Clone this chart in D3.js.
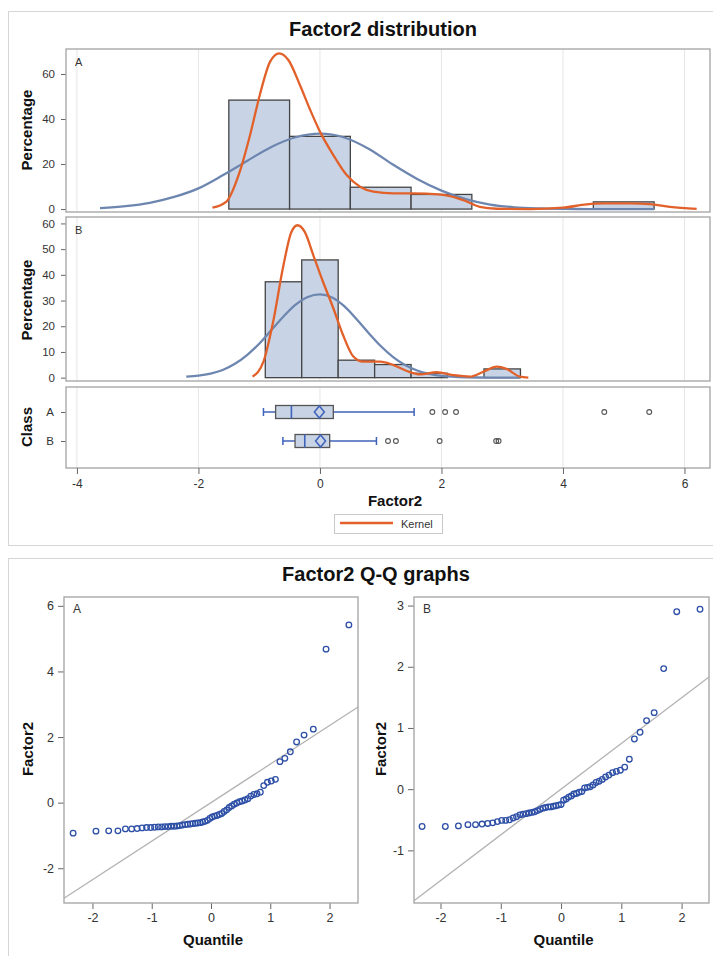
<!DOCTYPE html>
<html>
<head>
<meta charset="utf-8">
<title>Factor2 distribution</title>
<script src="https://cdn.jsdelivr.net/npm/d3@7"></script>
<style>
  body { margin: 0; background: #fff; }
  svg { display: block; font-family: "Liberation Sans", Arial, sans-serif; }
</style>
</head>
<body>
<svg id="chart" width="713" height="956"></svg>
<script>
const classes = ["A", "B"];
const xTicks = [-4, -2, 0, 2, 4, 6];
const yTicksA = [0, 20, 40, 60];
const yTicksB = [0, 10, 20, 30, 40, 50, 60];

// histogram bins (percent)
const edgesA = [-1.5, -0.5, 0.5, 1.5, 2.5, 3.5, 4.5, 5.5];
const pctA = [48.4, 32.3, 9.7, 6.5, 0, 0, 3.2];
const edgesB = [-0.9, -0.3, 0.3, 0.9, 1.5, 2.1, 2.7, 3.3];
const pctB = [37.3, 45.8, 6.8, 5.1, 1.7, 0, 3.4];

// fitted normal curves
const normalXA = [-3.62, -3.2, -2.8, -2.4, -2.0, -1.6, -1.2, -0.8, -0.4, 0, 0.4, 0.8, 1.2, 1.6, 2.0, 2.4, 2.8, 3.2, 3.6, 4.0, 4.5, 5.5];
const normalYA = [0.4, 1.3, 2.8, 5.4, 9.2, 15.0, 21.4, 27.6, 31.9, 33.5, 31.8, 26.8, 19.8, 13.4, 8.2, 4.4, 2.0, 0.8, 0.3, 0.1, 0, 0];
const normalXB = [-2.2, -2.0, -1.8, -1.6, -1.4, -1.2, -1.0, -0.8, -0.6, -0.4, -0.2, 0, 0.2, 0.4, 0.6, 0.8, 1.0, 1.2, 1.4, 1.6, 1.8, 2.0, 2.4, 2.8, 3.3];
const normalYB = [0.4, 0.8, 1.6, 3.0, 5.4, 8.8, 13.2, 18.5, 23.8, 28.4, 31.4, 32.4, 31.2, 27.8, 22.8, 17.4, 12.3, 8.1, 4.9, 2.8, 1.5, 0.7, 0.15, 0.02, 0];

// kernel density curves
const kernelXA = [-1.77, -1.54, -1.32, -1.15, -0.99, -0.82, -0.67, -0.52, -0.33, -0.16, 0, 0.22, 0.44, 0.66, 0.88, 1.21, 1.54, 1.95, 2.14, 2.36, 2.63, 2.91, 3.46, 4.0, 4.39, 4.66, 5.1, 5.43, 5.76, 6.2];
const kernelYA = [0.6, 3.3, 16.6, 32.9, 50.7, 65.5, 69.2, 66.2, 55.1, 44, 34.4, 24, 15.1, 9.9, 7.7, 7, 7, 6.5, 5.8, 4, 1.0, 0.15, 0, 0.6, 2.1, 2.5, 2.5, 2.2, 1.0, 0.1];
const kernelXB = [-1.11, -0.93, -0.77, -0.60, -0.47, -0.37, -0.25, -0.11, 0.05, 0.22, 0.38, 0.55, 0.71, 0.99, 1.21, 1.43, 1.65, 1.92, 2.19, 2.47, 2.69, 2.91, 3.07, 3.29, 3.43];
const kernelYB = [0.4, 6.2, 21.8, 43.8, 56.7, 59.3, 56.7, 47.7, 37.3, 27, 16.6, 8.2, 6.2, 6.2, 4.9, 2.6, 1.3, 2.1, 1.0, 0.4, 2.3, 4.3, 3.4, 0.4, 0];

// box plot statistics per class
const boxLow = [-0.93, -0.61];
const boxQ1 = [-0.73, -0.41];
const boxMedian = [-0.47, -0.25];
const boxMean = [-0.01, 0.01];
const boxQ3 = [0.22, 0.16];
const boxHigh = [1.55, 0.93];

// Q-Q plots: normal quantiles and sorted Factor2 values
const quantA = [-2.326, -1.941, -1.726, -1.570, -1.444, -1.338, -1.246, -1.163, -1.087, -1.017, -0.952, -0.890, -0.832, -0.776, -0.723, -0.671, -0.622, -0.573, -0.526, -0.481, -0.436, -0.392, -0.349, -0.307, -0.265, -0.223, -0.182, -0.141, -0.101, -0.060, -0.020, 0.020, 0.060, 0.101, 0.141, 0.182, 0.223, 0.265, 0.307, 0.349, 0.392, 0.436, 0.481, 0.526, 0.573, 0.622, 0.671, 0.723, 0.776, 0.832, 0.890, 0.952, 1.017, 1.087, 1.163, 1.246, 1.338, 1.444, 1.570, 1.726, 1.941, 2.326];
const factorA = [-0.93, -0.87, -0.86, -0.86, -0.80, -0.80, -0.79, -0.77, -0.76, -0.76, -0.75, -0.74, -0.74, -0.73, -0.73, -0.72, -0.72, -0.71, -0.70, -0.68, -0.67, -0.66, -0.65, -0.64, -0.63, -0.62, -0.61, -0.59, -0.57, -0.54, -0.48, -0.44, -0.41, -0.39, -0.36, -0.33, -0.27, -0.22, -0.15, -0.10, -0.05, -0.01, 0.03, 0.05, 0.08, 0.12, 0.20, 0.25, 0.27, 0.32, 0.52, 0.62, 0.66, 0.71, 1.25, 1.35, 1.55, 1.85, 2.06, 2.24, 4.68, 5.42];
const quantB = [-2.306, -1.920, -1.703, -1.545, -1.419, -1.311, -1.217, -1.133, -1.056, -0.984, -0.918, -0.855, -0.795, -0.739, -0.684, -0.632, -0.581, -0.532, -0.484, -0.437, -0.391, -0.345, -0.300, -0.256, -0.213, -0.170, -0.127, -0.085, -0.042, 0, 0.042, 0.085, 0.127, 0.170, 0.213, 0.256, 0.300, 0.345, 0.391, 0.437, 0.484, 0.532, 0.581, 0.632, 0.684, 0.739, 0.795, 0.855, 0.918, 0.984, 1.056, 1.133, 1.217, 1.311, 1.419, 1.545, 1.703, 1.920, 2.306];
const factorB = [-0.61, -0.61, -0.60, -0.58, -0.58, -0.57, -0.56, -0.55, -0.53, -0.51, -0.51, -0.50, -0.47, -0.45, -0.42, -0.41, -0.40, -0.39, -0.38, -0.37, -0.35, -0.33, -0.31, -0.30, -0.29, -0.29, -0.28, -0.27, -0.26, -0.25, -0.18, -0.16, -0.13, -0.11, -0.08, -0.07, -0.05, -0.04, 0.02, 0.03, 0.04, 0.07, 0.11, 0.13, 0.16, 0.20, 0.23, 0.27, 0.29, 0.31, 0.36, 0.49, 0.82, 0.93, 1.12, 1.25, 1.97, 2.90, 2.94];
const qqMean = [0.0, 0.0];
const qqSd = [1.175, 0.747];
const qqTicksX = [-2, -1, 0, 1, 2];
const qqTicksYA = [-2, 0, 2, 4, 6];
const qqTicksYB = [-1, 0, 1, 2, 3];

const fillColor = "#c8d4e5";
const normalColor = "#6d86b0";
const kernelColor = "#e2612a";
const boxBlue = "#3f62ba";
const markerBlue = "#2d4fa6";
const frameGray = "#a9a9a9";

// plain hyphen for negative tick labels, like the original
const plain = d => String(d);

const svg = d3.select("#chart");

// outer frames of the two graphs
svg.append("rect").attr("x", 8.5).attr("y", 11.5).attr("width", 760).attr("height", 534)
    .attr("fill", "none").attr("stroke", "#d6d6d6");
svg.append("rect").attr("x", 8.5).attr("y", 558.5).attr("width", 760).attr("height", 500)
    .attr("fill", "none").attr("stroke", "#d6d6d6");

function styleAxis(g, size) {
    g.select(".domain").remove();
    g.selectAll(".tick line").attr("stroke", "#666");
    g.selectAll(".tick text").attr("fill", "#333").attr("font-size", size)
        .attr("font-family", "'Liberation Sans', Arial, sans-serif");
}

function frame(x0, y0, x1, y1) {
    svg.append("rect").attr("x", x0).attr("y", y0).attr("width", x1 - x0).attr("height", y1 - y0)
        .attr("fill", "none").attr("stroke", frameGray).attr("stroke-width", 1.4);
}

function yLabel(text, x, y) {
    svg.append("text").attr("transform", `translate(${x},${y}) rotate(-90)`)
        .attr("text-anchor", "middle").attr("font-size", 15).attr("font-weight", "bold")
        .attr("fill", "#111").text(text);
}

// ---------- Factor2 distribution ----------
svg.append("text").attr("x", 383).attr("y", 36).attr("text-anchor", "middle")
    .attr("font-size", 20).attr("font-weight", "bold").attr("fill", "#111")
    .text("Factor2 distribution");

const x = d3.scaleLinear().domain([-4.18, 6.42]).range([66, 710]);
const yA = d3.scaleLinear().domain([-1.3, 71.1]).range([212, 49]);
const yB = d3.scaleLinear().domain([-1.3, 62.5]).range([381, 217]);
const yClass = d3.scalePoint().domain(classes).range([412, 441]);

function grid(y0, y1) {
    svg.append("g").selectAll("line").data(xTicks).join("line")
        .attr("x1", d => x(d)).attr("x2", d => x(d))
        .attr("y1", y0).attr("y2", y1)
        .attr("stroke", "#e6e6e6");
}

function histPanel(yScale, edges, pct, normX, normY, kernX, kernY, letter, ticks) {
    const [bottom, top] = yScale.range();
    grid(top, bottom);
    const g = svg.append("g");
    const bins = pct.map((p, i) => ({ x0: edges[i], x1: edges[i + 1], p })).filter(d => d.p > 0);
    g.selectAll("rect").data(bins).join("rect")
        .attr("x", d => x(d.x0))
        .attr("width", d => x(d.x1) - x(d.x0))
        .attr("y", d => yScale(d.p))
        .attr("height", d => yScale(0) - yScale(d.p))
        .attr("fill", fillColor).attr("stroke", "#444").attr("stroke-width", 1.3);

    const line = d3.line().x(d => x(d[0])).y(d => yScale(d[1])).curve(d3.curveMonotoneX);
    g.append("path").datum(d3.zip(normX, normY)).attr("d", line)
        .attr("fill", "none").attr("stroke", normalColor).attr("stroke-width", 2.3);
    g.append("path").datum(d3.zip(kernX, kernY)).attr("d", line)
        .attr("fill", "none").attr("stroke", kernelColor).attr("stroke-width", 2.3);

    svg.append("g").attr("transform", "translate(66,0)")
        .call(d3.axisLeft(yScale).tickValues(ticks).tickSize(5).tickPadding(6).tickFormat(plain))
        .call(g => styleAxis(g, 11.5));

    svg.append("text").attr("x", 75).attr("y", top + 17).attr("font-size", 11)
        .attr("fill", "#333").text(letter);
    frame(66, top, 710, bottom);
}

histPanel(yA, edgesA, pctA, normalXA, normalYA, kernelXA, kernelYA, "A", yTicksA);
histPanel(yB, edgesB, pctB, normalXB, normalYB, kernelXB, kernelYB, "B", yTicksB);
yLabel("Percentage", 32, 130);
yLabel("Percentage", 32, 300);

// box plots
grid(387, 468);
const factors = [factorA, factorB];
const boxG = svg.append("g");
classes.forEach((c, i) => {
    const cy = yClass(c);
    const h = 6.5;
    const cap = 4;
    boxG.append("line").attr("x1", x(boxLow[i])).attr("x2", x(boxQ1[i])).attr("y1", cy).attr("y2", cy)
        .attr("stroke", boxBlue).attr("stroke-width", 1.5);
    boxG.append("line").attr("x1", x(boxQ3[i])).attr("x2", x(boxHigh[i])).attr("y1", cy).attr("y2", cy)
        .attr("stroke", boxBlue).attr("stroke-width", 1.5);
    [boxLow[i], boxHigh[i]].forEach(v => {
        boxG.append("line").attr("x1", x(v)).attr("x2", x(v)).attr("y1", cy - cap).attr("y2", cy + cap)
            .attr("stroke", boxBlue).attr("stroke-width", 1.5);
    });
    boxG.append("rect").attr("x", x(boxQ1[i])).attr("width", x(boxQ3[i]) - x(boxQ1[i]))
        .attr("y", cy - h).attr("height", 2 * h)
        .attr("fill", fillColor).attr("stroke", "#555").attr("stroke-width", 1.3);
    boxG.append("line").attr("x1", x(boxMedian[i])).attr("x2", x(boxMedian[i]))
        .attr("y1", cy - h).attr("y2", cy + h).attr("stroke", boxBlue).attr("stroke-width", 1.6);
    const mx = x(boxMean[i]);
    boxG.append("path").attr("d", `M${mx - 5},${cy}L${mx},${cy - 6}L${mx + 5},${cy}L${mx},${cy + 6}Z`)
        .attr("fill", "none").attr("stroke", boxBlue).attr("stroke-width", 1.5);
    const outliers = factors[i].filter(v => v > boxHigh[i] || v < boxLow[i]);
    boxG.selectAll(null).data(outliers).join("circle")
        .attr("cx", d => x(d)).attr("cy", cy).attr("r", 2.4)
        .attr("fill", "none").attr("stroke", "#555").attr("stroke-width", 1.1);
});

svg.append("g").attr("transform", "translate(66,0)")
    .call(d3.axisLeft(yClass).tickSize(5).tickPadding(7))
    .call(g => styleAxis(g, 11.5));
frame(66, 387, 710, 468);
yLabel("Class", 32, 427);

svg.append("g").attr("transform", "translate(0,468)")
    .call(d3.axisBottom(x).tickValues(xTicks).tickSize(6).tickPadding(5).tickFormat(plain))
    .call(g => styleAxis(g, 12));
svg.append("text").attr("x", 395).attr("y", 506).attr("text-anchor", "middle")
    .attr("font-size", 15).attr("font-weight", "bold").attr("fill", "#111").text("Factor2");

// legend
svg.append("rect").attr("x", 334.5).attr("y", 514.5).attr("width", 108).attr("height", 19)
    .attr("fill", "none").attr("stroke", "#c8c8c8");
svg.append("line").attr("x1", 340).attr("x2", 393).attr("y1", 523).attr("y2", 523)
    .attr("stroke", kernelColor).attr("stroke-width", 2.5);
svg.append("text").attr("x", 401).attr("y", 527.5).attr("font-size", 11).attr("fill", "#333").text("Kernel");

// ---------- Factor2 Q-Q graphs ----------
svg.append("text").attr("x", 376).attr("y", 581).attr("text-anchor", "middle")
    .attr("font-size", 20).attr("font-weight", "bold").attr("fill", "#111")
    .text("Factor2 Q-Q graphs");

function qqPanel(qx, qy, quant, vals, mu, sd, letter, yTicks, labelX) {
    const [x0, x1] = qx.range();
    const [y1, y0] = qy.range();
    const [d0, d1] = qx.domain();
    svg.append("line")
        .attr("x1", qx(d0)).attr("y1", qy(mu + sd * d0))
        .attr("x2", qx(d1)).attr("y2", qy(mu + sd * d1))
        .attr("stroke", "#b3b3b3").attr("stroke-width", 1.3);
    svg.append("g").selectAll("circle").data(d3.zip(quant, vals)).join("circle")
        .attr("cx", d => qx(d[0])).attr("cy", d => qy(d[1])).attr("r", 2.8)
        .attr("fill", "none").attr("stroke", markerBlue).attr("stroke-width", 1.3);

    svg.append("g").attr("transform", `translate(${x0},0)`)
        .call(d3.axisLeft(qy).tickValues(yTicks).tickSize(6).tickPadding(4).tickFormat(plain))
        .call(g => styleAxis(g, 12.5));
    svg.append("g").attr("transform", `translate(0,${y1})`)
        .call(d3.axisBottom(qx).tickValues(qqTicksX).tickSize(6).tickPadding(4).tickFormat(plain))
        .call(g => styleAxis(g, 12.5));

    svg.append("text").attr("x", x0 + 9).attr("y", y0 + 16).attr("font-size", 12)
        .attr("fill", "#333").text(letter);
    frame(x0, y0, x1, y1);
    yLabel("Factor2", labelX, 749);
    svg.append("text").attr("x", (x0 + x1) / 2 + 2).attr("y", 945).attr("text-anchor", "middle")
        .attr("font-size", 15).attr("font-weight", "bold").attr("fill", "#111").text("Quantile");
}

const qxA = d3.scaleLinear().domain([-2.48, 2.48]).range([64, 358]);
const qyA = d3.scaleLinear().domain([-3.06, 6.27]).range([903, 597]);
const qxB = d3.scaleLinear().domain([-2.44, 2.455]).range([414, 709]);
const qyB = d3.scaleLinear().domain([-1.86, 3.14]).range([903, 597]);

qqPanel(qxA, qyA, quantA, factorA, qqMean[0], qqSd[0], "A", qqTicksYA, 33);
qqPanel(qxB, qyB, quantB, factorB, qqMean[1], qqSd[1], "B", qqTicksYB, 386);
</script>
</body>
</html>
